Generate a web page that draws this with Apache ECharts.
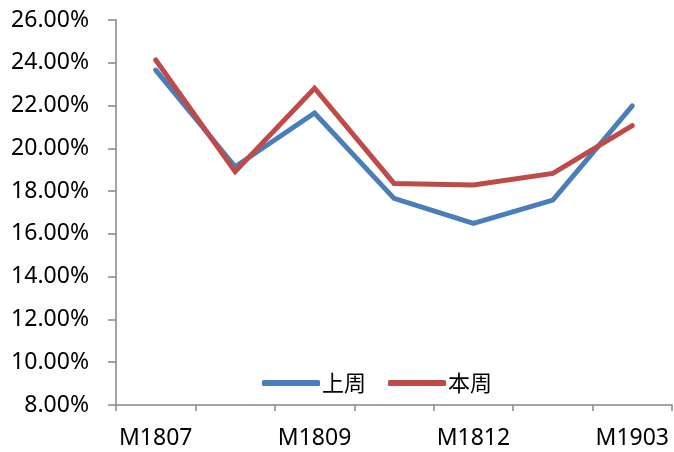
<!DOCTYPE html>
<html>
<head>
<meta charset="utf-8">
<script src="https://cdn.jsdelivr.net/npm/echarts@6/dist/echarts.min.js"></script>
<style>html,body{margin:0;padding:0;background:#fff;}#c{width:674px;height:452px;}</style>
</head>
<body>
<div id="c"></div>
<script>
const categories = ['M1807', 'M1808', 'M1809', 'M1811', 'M1812', 'M1901', 'M1903'];
const lastWeek = [23.66, 19.14, 21.65, 17.66, 16.49, 17.58, 21.98];
const thisWeek = [24.13, 18.91, 22.81, 18.36, 18.29, 18.83, 21.06];
const seriesNames = ['上周', '本周'];

const chart = echarts.init(document.getElementById('c'), null, {renderer: 'canvas'});
const axisColor = '#868686';
chart.setOption({
  animation: false,
  backgroundColor: '#fff',
  grid: {left: 116, right: 2, top: 20, bottom: 47, containLabel: false},
  legend: {
    left: 257, top: 367,
    itemWidth: 58, itemHeight: 6, itemGap: 22,
    icon: 'roundRect',
    textStyle: {fontFamily: '"Noto Sans CJK SC"', fontSize: 22, color: '#000', padding: [0,0,0,-3]},
    data: seriesNames
  },
  xAxis: {
    type: 'category',
    data: categories,
    boundaryGap: true,
    axisLine: {lineStyle: {color: axisColor, width: 1.5}},
    axisTick: {show: true, length: 6, interval: 0, lineStyle: {color: axisColor, width: 1.5}},
    axisLabel: {interval: 1, margin: 22, fontFamily: '"Noto Sans"', fontSize: 23, color: '#000'},
    splitLine: {show: false}
  },
  yAxis: {
    type: 'value',
    min: 8, max: 26, interval: 2,
    axisLine: {show: true, lineStyle: {color: axisColor, width: 1.5}},
    axisTick: {show: true, length: 8, lineStyle: {color: axisColor, width: 1.5}},
    axisLabel: {margin: 27, fontFamily: '"Noto Sans"', fontSize: 23, color: '#000',
      formatter: v => v.toFixed(2) + '%'},
    splitLine: {show: false}
  },
  series: [
    {name: seriesNames[0], type: 'line', data: lastWeek, symbol: 'none', color: '#4A7EBB',
     lineStyle: {width: 5, color: '#4A7EBB', cap: 'round', join: 'miter'}},
    {name: seriesNames[1], type: 'line', data: thisWeek, symbol: 'none', color: '#BE4B48',
     lineStyle: {width: 5, color: '#BE4B48', cap: 'round', join: 'miter'}}
  ]
});
</script>
</body>
</html>
